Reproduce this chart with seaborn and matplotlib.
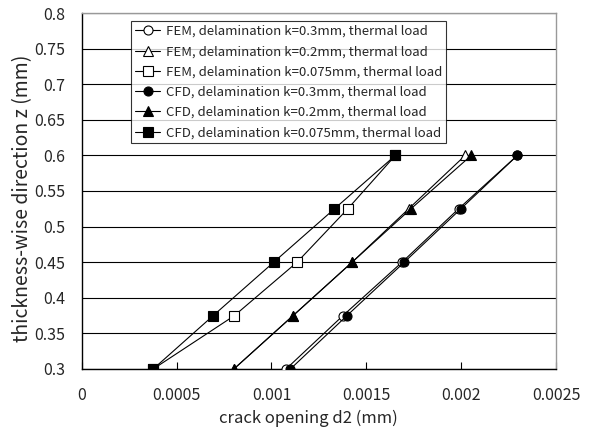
import matplotlib
matplotlib.use("Agg")
import matplotlib.pyplot as plt
import seaborn as sns
import pandas as pd

z = [0.3, 0.375, 0.45, 0.525, 0.6]
fem_k03 = [0.001077, 0.001377, 0.001688, 0.001986, 0.002296]
fem_k02 = [0.000802, 0.001114, 0.001425, 0.001723, 0.002021]
fem_k0075 = [0.000377, 0.000805, 0.001135, 0.001402, 0.001653]
cfd_k03 = [0.001100, 0.001398, 0.001700, 0.001998, 0.002296]
cfd_k02 = [0.000802, 0.001114, 0.001425, 0.001735, 0.002053]
cfd_k0075 = [0.000377, 0.000693, 0.001012, 0.001332, 0.001653]

labels = [
    "FEM, delamination k=0.3mm, thermal load",
    "FEM, delamination k=0.2mm, thermal load",
    "FEM, delamination k=0.075mm, thermal load",
    "CFD, delamination k=0.3mm, thermal load",
    "CFD, delamination k=0.2mm, thermal load",
    "CFD, delamination k=0.075mm, thermal load",
]
series = [fem_k03, fem_k02, fem_k0075, cfd_k03, cfd_k02, cfd_k0075]
markers = ["o", "^", "s", "o", "^", "s"]
faces = ["white", "white", "white", "black", "black", "black"]

x_ticks = [0, 0.0005, 0.001, 0.0015, 0.002, 0.0025]
x_ticklabels = ["0", "0.0005", "0.001", "0.0015", "0.002", "0.0025"]
y_ticks = [0.3, 0.35, 0.4, 0.45, 0.5, 0.55, 0.6, 0.65, 0.7, 0.75, 0.8]
y_ticklabels = ["0.3", "0.35", "0.4", "0.45", "0.5", "0.55", "0.6", "0.65", "0.7", "0.75", "0.8"]

sns.set_style("white")
plt.rcParams['font.family'] = ['Noto Sans CJK JP', 'DejaVu Sans']

fig = plt.figure(figsize=(5.93, 4.28), dpi=100)
ax = fig.add_axes([0.1378, 0.1379, 0.8, 0.8317])

for i, (vals, lab) in enumerate(zip(series, labels)):
    df = pd.DataFrame({"d2": vals, "z": z})
    sns.lineplot(data=df, x="d2", y="z", sort=False, ax=ax, color="black",
                 linewidth=0.8, marker=markers[i], markersize=6.5 if markers[i] != "^" else 7,
                 markerfacecolor=faces[i], markeredgecolor="black", markeredgewidth=0.8,
                 label=lab, zorder=3 + i)

ax.set_xlim(0, 0.0025)
ax.set_ylim(0.3, 0.8)
ax.set_xticks(x_ticks)
ax.set_xticklabels(x_ticklabels, fontsize=11.5)
ax.set_yticks(y_ticks)
ax.set_yticklabels(y_ticklabels, fontsize=11.5)
ax.tick_params(axis="x", direction="in", length=5, width=0.8, color="black", pad=13, bottom=True)
ax.tick_params(axis="y", length=0, pad=12, left=False)
ax.yaxis.grid(True, color="black", linewidth=0.8)
ax.xaxis.grid(False)
ax.set_axisbelow(True)
for s in ["left", "bottom"]:
    ax.spines[s].set_color("black")
    ax.spines[s].set_linewidth(1.0)
for s in ["top", "right"]:
    ax.spines[s].set_color("#999999")
    ax.spines[s].set_linewidth(1.0)

ax.set_xlabel("crack opening d2 (mm)", fontsize=12)
ax.xaxis.set_label_coords((308 - 81.7) / 474.3, -(423 - 369) / 356.0)
ax.xaxis.label.set_va("baseline")
ax.set_ylabel("thickness-wise direction z (mm)", fontsize=14)
ax.yaxis.set_label_coords(-(81.7 - 23) / 474.3, (369 - 198) / 356.0)
ax.yaxis.label.set_va("center")

leg = ax.legend(loc="upper left", bbox_to_anchor=(0.104, 0.978), fontsize=9.5,
                frameon=True, fancybox=False, shadow=False, handlelength=1.9,
                handletextpad=0.42, borderpad=0.31, labelspacing=0.55, borderaxespad=0)
leg.get_frame().set_edgecolor("black")
leg.get_frame().set_linewidth(0.8)
leg.set_zorder(20)

fig.savefig("out.png", dpi=100)
